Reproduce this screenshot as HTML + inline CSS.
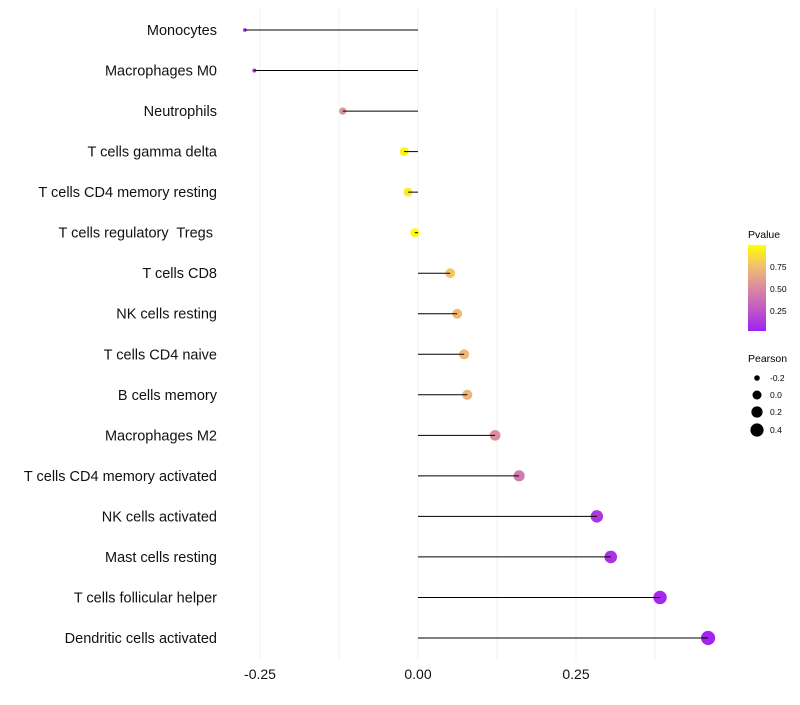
<!DOCTYPE html>
<html><head><meta charset="utf-8"><style>
body{margin:0;background:#fff;font-family:"Liberation Sans",sans-serif}
</style></head><body>
<svg id="chart" width="800" height="700" xmlns="http://www.w3.org/2000/svg">
<defs><linearGradient id="pg" x1="0" y1="1" x2="0" y2="0">
<stop offset="0" stop-color="#a020f0"/><stop offset="0.25" stop-color="#c058c8"/><stop offset="0.5" stop-color="#d98aa0"/><stop offset="0.75" stop-color="#f2bd72"/><stop offset="1" stop-color="#ffff00"/></linearGradient></defs>
<g id="grid"></g><g id="dots"></g><g id="marks"></g><g id="labels"></g>
<g>
<text x="748" y="238" font-size="10.5">Pvalue</text>
<rect x="748" y="245" width="18" height="86" fill="url(#pg)"/>
<text x="770" y="270" font-size="8.5">0.75</text>
<text x="770" y="292" font-size="8.5">0.50</text>
<text x="770" y="314" font-size="8.5">0.25</text>
</g>
<g>
<text x="748" y="362" font-size="10.5">Pearson</text>
<circle cx="757" cy="378" r="2.8"/><text x="770" y="381" font-size="8.5">-0.2</text>
<circle cx="757" cy="395" r="4.5"/><text x="770" y="398" font-size="8.5">0.0</text>
<circle cx="757" cy="412" r="5.6"/><text x="770" y="415" font-size="8.5">0.2</text>
<circle cx="757" cy="430" r="6.6"/><text x="770" y="433" font-size="8.5">0.4</text>
</g>
</svg>
<script>
const cells=["Monocytes","Macrophages M0","Neutrophils","T cells gamma delta","T cells CD4 memory resting","T cells regulatory  Tregs ","T cells CD8","NK cells resting","T cells CD4 naive","B cells memory","Macrophages M2","T cells CD4 memory activated","NK cells activated","Mast cells resting","T cells follicular helper","Dendritic cells activated"];
const pearson=[-0.274,-0.259,-0.119,-0.022,-0.016,-0.005,0.051,0.062,0.073,0.078,0.122,0.160,0.283,0.305,0.383,0.459];
const pvalue=[0.05,0.1,0.55,0.95,0.93,0.98,0.78,0.72,0.72,0.7,0.52,0.42,0.1,0.08,0.04,0.02];
const ticks=[-0.25,0,0.25];
const tickLabels=["-0.25","0.00","0.25"];
const minor=[-0.125,0.125,0.375];
const NS="http://www.w3.org/2000/svg";
const xs=v=>418+v*632;
const ys=i=>30+i*(608/15);
const stops=[[0,[160,32,240]],[0.25,[192,88,200]],[0.5,[217,138,160]],[0.75,[242,189,114]],[1,[255,255,0]]];
function col(p){for(let k=1;k<stops.length;k++){if(p<=stops[k][0]){const a=stops[k-1],b=stops[k],t=(p-a[0])/(b[0]-a[0]);return "rgb("+a[1].map((c,j)=>Math.round(c+(b[1][j]-c)*t)).join(",")+")";}}return "rgb(255,255,0)";}
const rad=v=>Math.sqrt(Math.max(2,3+(v+0.28)/0.74*47));
function mk(t,a,parent){const e=document.createElementNS(NS,t);for(const k in a)e.setAttribute(k,a[k]);parent.appendChild(e);return e;}
const grid=document.getElementById('grid'),marks=document.getElementById('marks'),dots=document.getElementById('dots'),labels=document.getElementById('labels');
ticks.concat(minor).forEach(v=>{const l=mk('line',{x1:xs(v),x2:xs(v),y1:8,y2:660,stroke:'#f0f0f0','stroke-width':1},grid);

});
ticks.forEach((v,i)=>{const t=mk('text',{x:xs(v),y:679,'font-size':14,'text-anchor':'middle',fill:'#111'},labels);t.textContent=tickLabels[i];

});
cells.forEach((c,i)=>{const y=ys(i);
const t=mk('text',{x:217,y:y+5,'font-size':14.5,'text-anchor':'end',fill:'#111','xml:space':'preserve',style:'white-space:pre'},labels);t.textContent=c;


const d=mk('circle',{cx:xs(pearson[i]),cy:y,r:rad(pearson[i]),fill:col(pvalue[i])},dots);


const l=mk('line',{x1:xs(0),x2:xs(pearson[i]),y1:y,y2:y,stroke:'#000','stroke-width':1},marks);

});
</script>
</body></html>
